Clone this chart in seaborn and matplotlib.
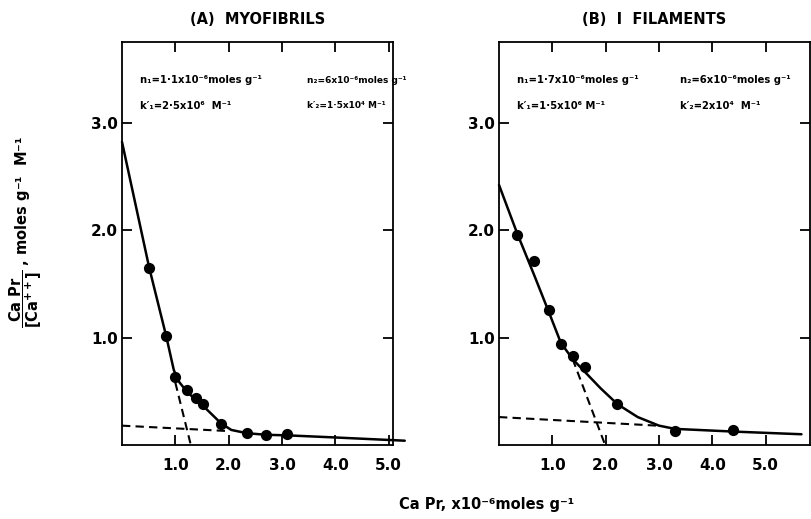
import numpy as np
import pandas as pd
import matplotlib
matplotlib.use("Agg")
import matplotlib.pyplot as plt
import seaborn as sns

# ---------------- data ----------------
# Panel A: myofibrils
a_pts_x = [0.51, 0.83, 0.99, 1.21, 1.38, 1.52, 1.86, 2.34, 2.70, 3.09]
a_pts_y = [1.65, 1.01, 0.63, 0.51, 0.44, 0.38, 0.20, 0.11, 0.09, 0.10]
a_curve_x = [0.0, 0.51, 0.83, 0.97, 1.05, 1.21, 1.38, 1.55, 1.86, 2.05, 2.34, 2.70, 3.09, 4.0, 5.3]
a_curve_y = [2.82, 1.65, 1.01, 0.70, 0.60, 0.50, 0.42, 0.35, 0.20, 0.14, 0.11, 0.095, 0.09, 0.07, 0.04]
a_steep_x = [1.00, 1.29]
a_steep_y = [0.58, 0.00]
a_flat_x = [0.0, 1.98]
a_flat_y = [0.18, 0.13]

# Panel B: I filaments
b_pts_x = [0.34, 0.66, 0.94, 1.16, 1.38, 1.61, 2.22, 3.30, 4.39]
b_pts_y = [1.95, 1.71, 1.26, 0.94, 0.83, 0.73, 0.38, 0.13, 0.14]
b_curve_x = [0.0, 0.34, 0.66, 0.94, 1.16, 1.38, 1.61, 1.90, 2.22, 2.60, 3.00, 3.30, 4.39, 5.67]
b_curve_y = [2.42, 1.97, 1.58, 1.23, 0.95, 0.80, 0.68, 0.53, 0.38, 0.26, 0.18, 0.15, 0.125, 0.10]
b_steep_x = [1.38, 1.99]
b_steep_y = [0.80, 0.00]
b_flat_x = [0.0, 2.97]
b_flat_y = [0.26, 0.18]

x_ticks = [1, 2, 3, 4, 5]
x_ticklabels = ["1.0", "2.0", "3.0", "4.0", "5.0"]
y_ticks = [1, 2, 3]
y_ticklabels = ["1.0", "2.0", "3.0"]

titles = ["(A)  MYOFIBRILS", "(B)  I  FILAMENTS"]
a_notes = ["n₁=1·1x10⁻⁶moles g⁻¹", "k′₁=2·5x10⁶  M⁻¹", "n₂=6x10⁻⁶moles g⁻¹", "k′₂=1·5x10⁴ M⁻¹"]
b_notes = ["n₁=1·7x10⁻⁶moles g⁻¹", "k′₁=1·5x10⁶ M⁻¹", "n₂=6x10⁻⁶moles g⁻¹", "k′₂=2x10⁴  M⁻¹"]

# ---------------- styling ----------------
sns.set_theme(style="ticks")
plt.rcParams["font.family"] = ["DejaVu Sans"]
plt.rcParams["font.weight"] = "bold"
for k in ["text.color", "axes.labelcolor", "xtick.color", "ytick.color", "axes.edgecolor"]:
    plt.rcParams[k] = "black"

W, H = 812, 519
fig = plt.figure(figsize=(W / 100, H / 100), dpi=100)

def rect(l, r, t, b):
    return [l / W, 1 - b / H, (r - l) / W, (b - t) / H]

axA = fig.add_axes(rect(122, 393, 42, 445))
axB = fig.add_axes(rect(499, 810, 42, 445))

panels = [
    (axA, a_pts_x, a_pts_y, a_curve_x, a_curve_y, a_steep_x, a_steep_y, a_flat_x, a_flat_y, (0, 5.08), a_notes, titles[0], 307, 6.5),
    (axB, b_pts_x, b_pts_y, b_curve_x, b_curve_y, b_steep_x, b_steep_y, b_flat_x, b_flat_y, (0, 5.83), b_notes, titles[1], 680, 7.2),
]

NOTE_FS = 7.2

for ax, px, py, cx, cy, sx, sy, fx, fy, xl, notes, title, n2x, fs2 in panels:
    df_c = pd.DataFrame({"x": cx, "y": cy})
    sns.lineplot(data=df_c, x="x", y="y", ax=ax, color="black", lw=1.8,
                 estimator=None, sort=False, clip_on=False, zorder=3)
    for dx, dy in [(sx, sy), (fx, fy)]:
        df_d = pd.DataFrame({"x": dx, "y": dy})
        sns.lineplot(data=df_d, x="x", y="y", ax=ax, color="black", lw=1.5,
                     estimator=None, sort=False, linestyle=(0, (4, 2.5)), zorder=2)
    df_p = pd.DataFrame({"x": px, "y": py})
    sns.scatterplot(data=df_p, x="x", y="y", ax=ax, color="black", s=65,
                    edgecolor="black", linewidth=0, zorder=4, clip_on=False)

    ax.set_xlim(*xl)
    ax.set_ylim(0, 3.75)
    ax.set_xticks(x_ticks)
    ax.set_xticklabels(x_ticklabels)
    ax.set_yticks(y_ticks)
    ax.set_yticklabels(y_ticklabels)
    ax.set_xlabel("")
    ax.set_ylabel("")
    for s in ax.spines.values():
        s.set_visible(True)
        s.set_linewidth(1.3)
        s.set_color("black")
    ax.tick_params(axis="both", which="major", direction="in", length=7, width=1.3,
                   top=True, right=True, labelsize=11, colors="black")
    ax.tick_params(axis="x", pad=9)
    ax.tick_params(axis="y", pad=3)
    for lab in ax.get_xticklabels() + ax.get_yticklabels():
        lab.set_fontweight("bold")

    x0 = ax.get_position().x0 * W
    x1 = ax.get_position().x1 * W
    left_note = 18 / (x1 - x0)
    right_note = (n2x - x0) / (x1 - x0)
    ax.text(left_note, 0.905, notes[0], transform=ax.transAxes, fontsize=NOTE_FS, fontweight="bold", va="center")
    ax.text(left_note, 0.842, notes[1], transform=ax.transAxes, fontsize=NOTE_FS, fontweight="bold", va="center")
    ax.text(right_note, 0.905, notes[2], transform=ax.transAxes, fontsize=fs2, fontweight="bold", va="center")
    ax.text(right_note, 0.842, notes[3], transform=ax.transAxes, fontsize=fs2, fontweight="bold", va="center")
    ax.set_title(title, fontsize=10.5, fontweight="bold", pad=13)

fig.text(487 / W, 1 - 505 / H, "Ca Pr, x10⁻⁶moles g⁻¹", ha="center", va="center",
         fontsize=10.5, fontweight="bold")
fig.text(26 / W, 1 - 232 / H,
         r"$\mathbf{\dfrac{Ca\ Pr}{[Ca^{++}]}}$" + " , moles g⁻¹  M⁻¹",
         rotation=90, ha="center", va="center", fontsize=10.5, fontweight="bold")

fig.savefig("out.png", dpi=100)
